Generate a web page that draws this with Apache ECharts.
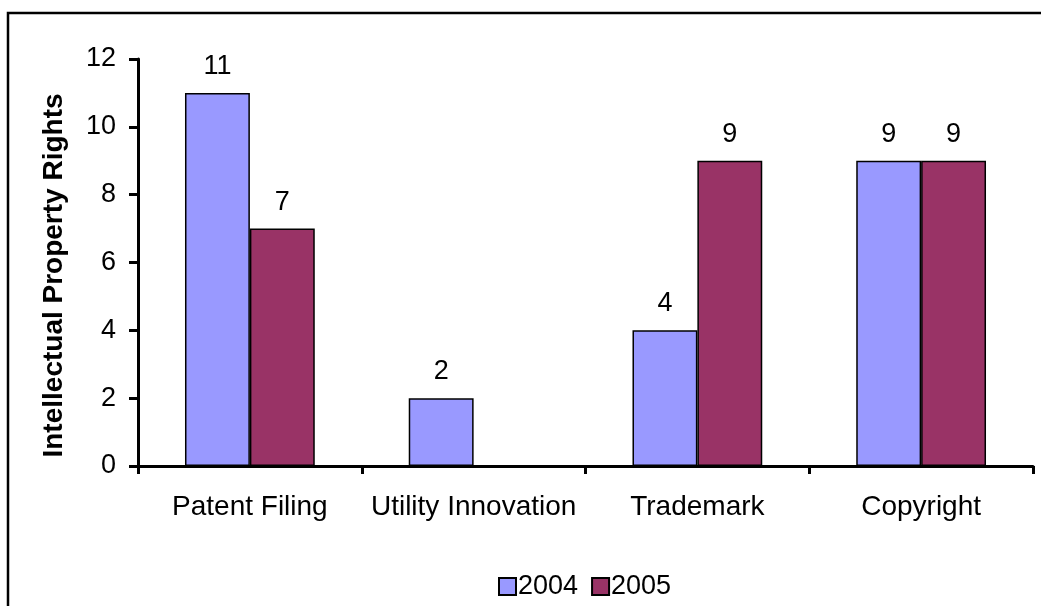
<!DOCTYPE html>
<html>
<head>
<meta charset="utf-8">
<script src="https://cdn.jsdelivr.net/npm/echarts@6/dist/echarts.min.js"></script>
<style>
  html, body { margin: 0; padding: 0; background: #fff; }
  #chart { width: 1041px; height: 606px; }
</style>
</head>
<body>
<div id="chart"></div>
<script>
const categories = ['Patent Filing', 'Utility Innovation', 'Trademark', 'Copyright'];
const values2004 = [11, 2, 4, 9];
const values2005 = [7, null, 9, 9];
const yTicks = { min: 0, max: 12, interval: 2 };

const font = '"Liberation Sans", Arial, sans-serif';

const myChart = echarts.init(document.getElementById('chart'));

const barLabel = {
  show: true,
  position: 'top',
  distance: 13,
  fontSize: 27,
  fontFamily: font,
  color: '#000',
};

const option = {
  animation: false,
  backgroundColor: '#fff',
  graphic: [
    {
      type: 'polyline',
      shape: { points: [[8, 620], [8, 13], [1060, 13]] },
      style: { stroke: '#000', lineWidth: 2.5, fill: null },
    },
  ],
  grid: { left: 138, right: 8, top: 59, bottom: 140 },
  legend: {
    left: 493,
    top: 568,
    itemWidth: 17,
    itemHeight: 17,
    itemGap: 13,
    icon: 'rect',
    textStyle: { fontSize: 27, fontFamily: font, color: '#000', padding: [0, 0, 0, -3] },
    data: ['2004', '2005'],
  },
  xAxis: {
    type: 'category',
    data: categories,
    axisLine: { lineStyle: { color: '#000', width: 3 } },
    axisTick: { show: true, length: 8, lineStyle: { color: '#000', width: 3 } },
    axisLabel: { interval: 0, fontSize: 28, fontFamily: font, color: '#000', margin: 27 },
  },
  yAxis: {
    type: 'value',
    min: yTicks.min,
    max: yTicks.max,
    interval: yTicks.interval,
    name: 'Intellectual Property Rights',
    nameLocation: 'middle',
    nameGap: 70,
    nameTextStyle: {
      fontSize: 28,
      fontWeight: 'bold',
      fontFamily: font,
      color: '#000',
      padding: [0, 26, 0, 0],
    },
    splitLine: { show: false },
    axisLine: { show: true, lineStyle: { color: '#000', width: 3 } },
    axisTick: { show: true, length: 9, lineStyle: { color: '#000', width: 3 } },
    axisLabel: { fontSize: 27, fontFamily: font, color: '#000', margin: 22 },
  },
  series: [
    {
      name: '2004',
      type: 'bar',
      data: values2004,
      barGap: '0%',
      barCategoryGap: '42%',
      itemStyle: { color: '#9999FF', borderColor: '#000', borderWidth: 1.5 },
      label: barLabel,
    },
    {
      name: '2005',
      type: 'bar',
      data: values2005,
      itemStyle: { color: '#993366', borderColor: '#000', borderWidth: 1.5 },
      label: barLabel,
    },
  ],
};

myChart.setOption(option);
</script>
</body>
</html>
